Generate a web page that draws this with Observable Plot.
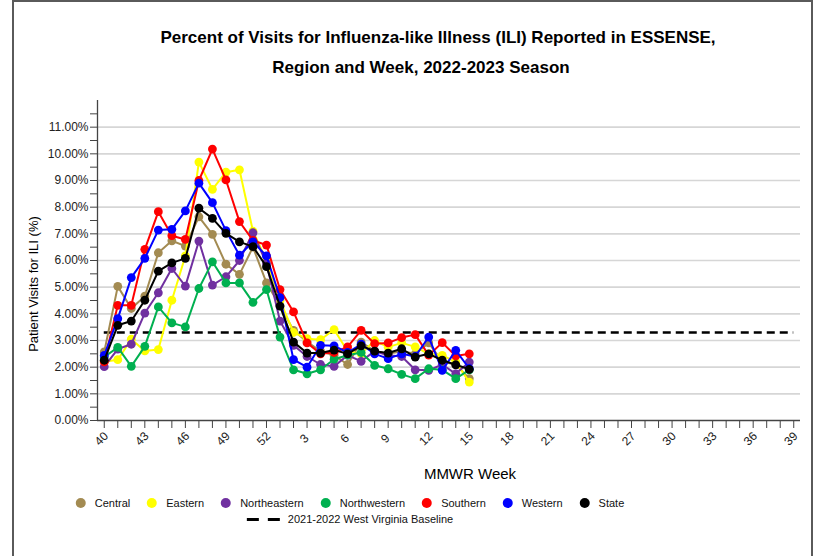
<!DOCTYPE html>
<html>
<head>
<meta charset="utf-8">
<script src="https://cdn.jsdelivr.net/npm/d3@7"></script>
<script src="https://cdn.jsdelivr.net/npm/@observablehq/plot@0.6"></script>
<style>
  body { margin: 0; background: #fff; font-family: "Liberation Sans", Arial, sans-serif; }
  #wrap { position: relative; width: 819px; height: 556px; overflow: hidden; background: #fff; }
  #frame { position: absolute; left: 12px; top: 0px; width: 797px; height: 600px; border-left: 2px solid #5a5a5a; border-top: 2px solid #5a5a5a; border-right: 2px solid #5a5a5a; }
  .title { position: absolute; white-space: nowrap; transform: translate(-50%, -50%); font-weight: bold; font-size: 17px; color: #000; }
  #chart { position: absolute; left: 0; top: 0; }
  #ylab { position: absolute; left: 33px; top: 284px; transform: translate(-50%, -50%) rotate(-90deg); white-space: nowrap; font-size: 13px; color: #000; }
  #xlab { position: absolute; left: 470px; top: 473px; transform: translate(-50%, -50%); white-space: nowrap; font-size: 15px; color: #000; }
  #legend1 { position: absolute; left: 350px; top: 503px; transform: translate(-50%, -50%); display: flex; align-items: center; white-space: nowrap; font-size: 11px; color: #111; }
  #legend2 { position: absolute; left: 350px; top: 519px; transform: translate(-50%, -50%); display: flex; align-items: center; white-space: nowrap; font-size: 11px; color: #111; }
  .sw { display: inline-block; width: 10px; height: 10px; border-radius: 50%; margin-right: 9px; }
  .it { display: flex; align-items: center; margin-right: 17px; }
  .it:last-child { margin-right: 0; }
  .dash { display: inline-block; width: 12px; height: 3px; background: #000; margin-right: 9px; }
</style>
</head>
<body>
<div id="wrap">
  <div id="frame"></div>
  <div class="title" style="left:438px;top:38px">Percent of Visits for Influenza-like Illness (ILI) Reported in ESSENSE,</div>
  <div class="title" style="left:421px;top:68px">Region and Week, 2022-2023 Season</div>
  <div id="chart"></div>
  <div id="ylab">Patient Visits for ILI (%)</div>
  <div id="xlab">MMWR Week</div>
  <div id="legend1"></div>
  <div id="legend2"></div>
</div>
<script>
// MMWR week tick labels for the season (index 0 = week 40)
const weeks = [40,41,42,43,44,45,46,47,48,49,50,51,52,1,2,3,4,5,6,7,8,9,10,11,12,13,14,15,16,17,18,19,20,21,22,23,24,25,26,27,28,29,30,31,32,33,34,35,36,37,38,39];

// Region names
const regions = ["Central","Eastern","Northeastern","Northwestern","Southern","Western","State"];

// Percent ILI values, weeks 40..52, 1..15
const central      = [2.57,5.03,4.20,4.66,6.29,6.74,6.54,7.64,6.98,5.86,5.48,6.50,5.16,4.30,3.38,2.95,2.60,2.45,2.10,2.94,2.60,2.50,2.60,2.50,2.91,2.20,2.10,1.57];
const eastern      = [2.20,2.28,3.05,2.61,2.66,4.51,6.17,9.69,8.67,9.31,9.40,7.10,6.00,4.50,3.30,3.07,3.03,3.41,2.60,2.50,3.00,2.75,2.91,2.76,2.50,2.44,2.20,1.44];
const northeastern = [2.02,2.68,2.86,4.03,4.79,5.70,5.04,6.73,5.08,5.39,6.00,7.04,5.89,3.73,2.82,2.40,2.10,2.03,2.45,2.22,2.60,2.45,2.40,1.90,1.88,2.10,1.75,2.19];
const northwestern = [2.38,2.74,2.03,2.78,4.26,3.66,3.51,4.95,5.95,5.16,5.16,4.43,4.91,3.13,1.90,1.75,1.90,2.30,2.45,2.55,2.07,1.94,1.73,1.57,1.94,1.90,1.57,1.90];
const southern     = [2.20,4.32,4.32,6.42,7.83,6.93,6.79,9.00,10.18,9.02,7.46,6.75,6.58,4.91,4.07,2.91,2.50,2.55,2.76,3.38,2.88,2.91,3.11,3.22,2.45,2.92,2.42,2.50];
const western      = [2.44,3.82,5.36,6.08,7.14,7.17,7.86,8.90,8.17,7.12,6.20,6.70,6.17,4.61,2.28,2.00,2.82,2.80,2.55,2.86,2.50,2.32,2.50,2.40,3.13,1.88,2.63,1.95];
const state        = [2.26,3.57,3.73,4.51,5.60,5.91,6.08,7.96,7.58,7.02,6.70,6.52,5.77,4.29,2.94,2.53,2.53,2.64,2.50,2.80,2.60,2.53,2.69,2.38,2.50,2.26,2.09,1.92];

// 2021-2022 West Virginia baseline (%)
const baseline = 3.3;
const baselineLabel = "2021-2022 West Virginia Baseline";

const seriesValues = [central, eastern, northeastern, northwestern, southern, western, state];
const colors = ["#a38b52","#ffff00","#7030a0","#00b050","#ff0000","#0000ff","#000000"];

const seriesRows = seriesValues.map((vals, k) =>
  vals.map((v, i) => ({i, week: weeks[i], v, region: regions[k]})));

const yTicks = d3.range(0, 11.51, 0.5);
const yGrid = d3.range(1, 11.01, 1);
const xTickIdx = d3.range(weeks.length);
const xLabelIdx = xTickIdx.filter(i => i % 3 === 0);

const marks = [
  Plot.gridY(yGrid, {stroke: "#d6d6d6", strokeOpacity: 1, strokeWidth: 1.6}),
  Plot.axisY(yTicks, {
    tickFormat: d => (Math.abs(d - Math.round(d)) < 1e-9) ? d.toFixed(2) + "%" : "",
    tickSize: 7, tickPadding: 2, fontSize: 12, stroke: "#444", fill: "#222", label: null
  }),
  Plot.axisX(xTickIdx, {tickFormat: () => "", tickSize: 8, stroke: "#444", label: null}),
  Plot.text(xLabelIdx, {x: d => d, text: d => String(weeks[d]), frameAnchor: "bottom", dy: 21, rotate: -45, fontSize: 12, fill: "#222"}),
  Plot.ruleX([-0.5], {y1: 0, y2: 12, stroke: "#444", strokeWidth: 1.3}),
  Plot.ruleY([0], {x1: -0.5, x2: 51.5, stroke: "#444", strokeWidth: 1.3}),
  Plot.ruleY([baseline], {x1: 0, x2: 51, stroke: "#000", strokeWidth: 2.3, strokeDasharray: "8,5"})
];
seriesRows.forEach((rows, k) => {
  marks.push(Plot.line(rows, {x: "i", y: "v", stroke: colors[k], strokeWidth: 2}));
  marks.push(Plot.dot(rows, {x: "i", y: "v", fill: colors[k], r: 4.4, stroke: "none"}));
});

const chart = Plot.plot({
  width: 819,
  height: 556,
  marginLeft: 97,
  marginRight: 19,
  marginTop: 100,
  marginBottom: 136,
  x: {type: "linear", domain: [-0.5, 51.5]},
  y: {domain: [0, 12]},
  style: {fontFamily: "'Liberation Sans', Arial, sans-serif", fontSize: "12px", background: "transparent", overflow: "visible"},
  marks
});
document.getElementById("chart").appendChild(chart);

// Legend
const l1 = document.getElementById("legend1");
regions.forEach((name, k) => {
  const it = document.createElement("span");
  it.className = "it";
  it.innerHTML = `<span class="sw" style="background:${colors[k]}"></span><span>${name}</span>`;
  l1.appendChild(it);
});
const l2 = document.getElementById("legend2");
l2.innerHTML = `<span class="dash"></span><span class="dash"></span><span style="margin-left:-1px">${baselineLabel}</span>`;
</script>
</body>
</html>
